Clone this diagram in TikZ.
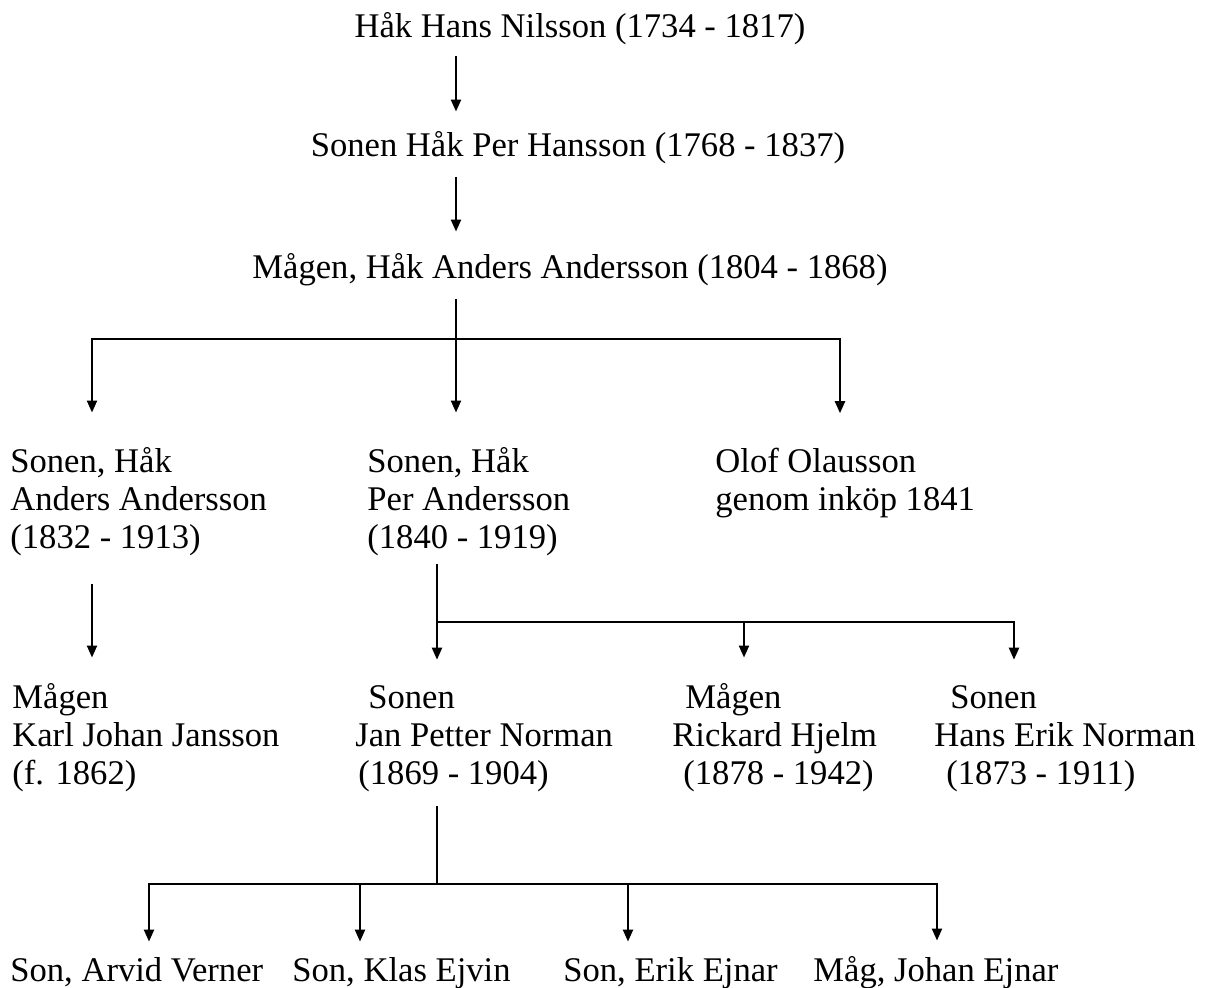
\documentclass[tikz,border=0pt]{standalone}
\usepackage{fontspec}
\setmainfont{Liberation Serif}
\usetikzlibrary{arrows.meta,positioning}

\begin{document}
\begin{tikzpicture}[
  x=0.5pt, y=-0.5pt,
  font=\fontsize{17.3}{19}\selectfont,
  title/.style={inner sep=0pt, anchor=base},
  person/.style={inner sep=0pt, align=left, anchor=base west},
  arr/.style={-{Triangle[length=6pt,width=5pt]}, line width=1.1pt},
  link/.style={line width=1.1pt}
]
\useasboundingbox (0,0) rectangle (1207,988);
% --- main line ---
\node[title] (n1) at (580,38) {Håk Hans Nilsson (1734 - 1817)};
\node[title] (n2) at (578,157) {Sonen Håk Per Hansson (1768 - 1837)};
\node[title] (n3) at (570,279) {Mågen, Håk Anders Andersson (1804 - 1868)};
% --- children (anchored on last line) ---
\node[person] (s1) at (10,549) {Sonen, Håk\\Anders Andersson\\(1832 - 1913)};
\node[person] (s2) at (367,549) {Sonen, Håk\\Per Andersson\\(1840 - 1919)};
\node[person] (s3) at (715,511) {Olof Olausson\\genom inköp 1841};
% --- grandchildren ---
\node[person] (g1) at (12,785) {Mågen\\Karl Johan Jansson\\(f. 1862)};
\node[person] (g2) at (355,785) {\hspace*{6.5pt}Sonen\\Jan Petter Norman\\\hspace*{1.5pt}(1869 - 1904)};
\node[person] (g3) at (672,785) {\hspace*{6.5pt}Mågen\\Rickard Hjelm\\\hspace*{5.5pt}(1878 - 1942)};
\node[person] (g4) at (934,785) {\hspace*{8pt}Sonen\\Hans Erik Norman\\\hspace*{6pt}(1873 - 1911)};
% --- last row ---
\node[person] (k1) at (10,982) {Son, Arvid Verner};
\node[person] (k2) at (292,982) {Son, Klas Ejvin};
\node[person] (k3) at (563,982) {Son, Erik Ejnar};
\node[person] (k4) at (813,982) {Måg, Johan Ejnar};
% --- columns and bars ---
\coordinate (trunk) at (456,0);
\coordinate (ca) at (92,0);
\coordinate (cc) at (840,0);
\coordinate (cb) at (437,0);
\coordinate (cd) at (744,0);
\coordinate (ce) at (1014,0);
\coordinate (bar1) at (456,339);
\coordinate (bar2) at (437,622);
\coordinate (bar3) at (437,884);
% --- arrows ---
\draw[arr, shorten <=5pt, shorten >=10pt] (n1.south -| trunk) -- (n2.north -| trunk);
\draw[arr, shorten <=6pt, shorten >=11pt] (n2.south -| trunk) -- (n3.north -| trunk);
\draw[arr, shorten <=6pt, shorten >=17.5pt] (n3.south -| trunk) -- (s2.north -| trunk);
\draw[arr, shorten >=17.5pt] (bar1) -| (s1.north -| ca);
\draw[arr, shorten >=17.5pt] (bar1) -| (s3.north -| cc);
\draw[arr, shorten <=13.5pt, shorten >=13pt] (s1.south -| ca) -- (g1.north -| ca);
\draw[arr, shorten <=3.5pt, shorten >=13pt] (s2.south -| cb) -- (g2.north -| cb);
\draw[arr, shorten >=13pt] (bar2) -| (g3.north -| cd);
\draw[arr, shorten >=13pt] (bar2) -| (g4.north -| ce);
\draw[link, shorten <=6.5pt] (g2.south -| cb) -- (bar3);
\draw[arr, shorten >=8pt] (bar3) -| (k1.north -| 149,0);
\draw[arr, shorten >=8pt] (bar3) -| (k2.north -| 360,0);
\draw[arr, shorten >=8pt] (bar3) -| (k3.north -| 628,0);
\draw[arr, shorten >=8pt] (bar3) -| (k4.north -| 937,0);
\end{tikzpicture}
\end{document}
